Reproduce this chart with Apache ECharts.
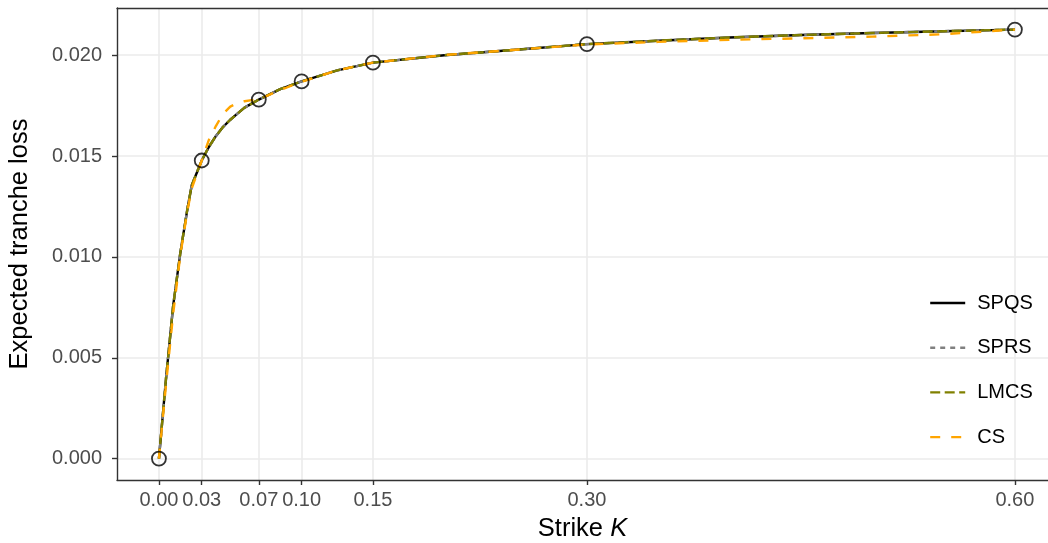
<!DOCTYPE html>
<html>
<head>
<meta charset="utf-8">
<script src="https://cdn.jsdelivr.net/npm/echarts@6/dist/echarts.min.js"></script>
<style>
html,body{margin:0;padding:0;background:#fff;}
#chart{width:1048px;height:543px;}
</style>
</head>
<body>
<div id="chart"></div>
<script>
// ---- data ----
const strikes = [0, 0.005, 0.01, 0.015, 0.02, 0.023, 0.03, 0.035, 0.04, 0.045, 0.05, 0.055, 0.06, 0.065, 0.07, 0.085, 0.10, 0.125, 0.15, 0.20, 0.25, 0.30, 0.35, 0.40, 0.45, 0.50, 0.55, 0.60];
const spqs = [0, 0.0040, 0.0076, 0.0102, 0.0124, 0.01355, 0.01478, 0.01545, 0.0160, 0.01645, 0.0168, 0.0171, 0.0174, 0.0176, 0.0178, 0.01832, 0.01870, 0.01925, 0.01963, 0.02000, 0.02027, 0.02055, 0.02072, 0.02088, 0.02100, 0.02110, 0.02119, 0.02127];
const sprs = [0, 0.0040, 0.0076, 0.0102, 0.0124, 0.01355, 0.01478, 0.01545, 0.0160, 0.01645, 0.0168, 0.0171, 0.0174, 0.0176, 0.0178, 0.01832, 0.01870, 0.01925, 0.01963, 0.02000, 0.02027, 0.02055, 0.02072, 0.02088, 0.02100, 0.02110, 0.02119, 0.02127];
const lmcs = [0, 0.0040, 0.0076, 0.0102, 0.0124, 0.01355, 0.01478, 0.01546, 0.0160, 0.01645, 0.0168, 0.0171, 0.0174, 0.0176, 0.0178, 0.01832, 0.01870, 0.01925, 0.01963, 0.02000, 0.02027, 0.02055, 0.02072, 0.02088, 0.02100, 0.02110, 0.02119, 0.02127];
const cs   = [0, 0.0037, 0.0072, 0.0101, 0.0123, 0.0134, 0.01478, 0.0158, 0.0165, 0.0171, 0.01745, 0.01762, 0.01772, 0.01777, 0.0178, 0.01828, 0.01868, 0.01925, 0.01963, 0.02001, 0.02027, 0.02053, 0.02066, 0.02076, 0.02084, 0.02092, 0.02104, 0.02127];
const knotStrikes = [0, 0.03, 0.07, 0.10, 0.15, 0.30, 0.60];
const knotLosses  = [0, 0.01478, 0.0178, 0.0187, 0.01963, 0.02055, 0.02127];
const xTicks = [0, 0.03, 0.07, 0.10, 0.15, 0.30, 0.60];
const yTicks = [0, 0.005, 0.010, 0.015, 0.020];
const seriesNames = ['SPQS', 'SPRS', 'LMCS', 'CS'];

const pair = (xs, ys) => xs.map((x, i) => [x, ys[i]]);

const FONT = '"Liberation Sans", Arial, sans-serif';
const chart = echarts.init(document.getElementById('chart'), null, {renderer: 'canvas'});

const lineSeries = (name, vals, color, type, width) => ({
  name: name,
  type: 'line',
  data: pair(strikes, vals),
  showSymbol: false,
  symbol: 'none',
  smooth: false,
  lineStyle: {color: color, width: width, type: type, cap: 'butt', join: 'round'},
  itemStyle: {color: color},
  emphasis: {disabled: true},
  animation: false,
  z: 3
});

chart.setOption({
  animation: false,
  backgroundColor: '#ffffff',
  textStyle: {fontFamily: FONT},
  grid: {left: 117, right: 0, top: 8, bottom: 63, containLabel: false, outerBoundsMode: 'none'},
  legend: {
    orient: 'vertical',
    left: 929,
    top: 293,
    padding: 0,
    itemWidth: 35,
    itemHeight: 20,
    itemGap: 24.7,
    data: seriesNames,
    itemStyle: {opacity: 0},
    lineStyle: {width: 2.4},
    textStyle: {fontSize: 20, color: '#000', fontFamily: FONT, padding: [0, 0, 0, 7]},
    selectedMode: false
  },
  xAxis: [{
    type: 'value',
    min: -0.0294,
    max: 0.6232,
    name: '{a|Strike }{b|K}',
    nameLocation: 'middle',
    nameGap: 36,
    nameTextStyle: {
      rich: {
        a: {fontSize: 25.5, color: '#000', fontFamily: FONT},
        b: {fontSize: 25.5, color: '#000', fontFamily: FONT, fontStyle: 'italic'}
      }
    },
    axisLine: {show: true, onZero: false, lineStyle: {color: '#333', width: 1.4}},
    axisTick: {show: true, length: 5, lineStyle: {color: '#333', width: 1.4}, customValues: xTicks},
    axisLabel: {customValues: xTicks, formatter: v => v.toFixed(2), fontSize: 20, color: '#4D4D4D', margin: 10, fontFamily: FONT, showMinLabel: true, showMaxLabel: true},
    splitLine: {show: true, lineStyle: {color: '#EBEBEB', width: 1.6}}
  }, {
    type: 'value',
    position: 'top',
    min: -0.0294,
    max: 0.6232,
    axisLine: {show: true, onZero: false, lineStyle: {color: '#333', width: 1.4}},
    axisTick: {show: false},
    axisLabel: {show: false},
    splitLine: {show: false}
  }],
  yAxis: {
    type: 'value',
    min: -0.00106,
    max: 0.02234,
    name: 'Expected tranche loss',
    nameLocation: 'middle',
    nameGap: 84,
    nameTextStyle: {fontSize: 25.5, color: '#000', fontFamily: FONT},
    axisLine: {show: true, onZero: false, lineStyle: {color: '#333', width: 1.4}},
    axisTick: {show: true, length: 5, lineStyle: {color: '#333', width: 1.4}, customValues: yTicks},
    axisLabel: {customValues: yTicks, formatter: v => v.toFixed(3), fontSize: 20, color: '#4D4D4D', margin: 15, fontFamily: FONT},
    splitLine: {show: true, lineStyle: {color: '#EBEBEB', width: 1.6}}
  },
  series: [
    lineSeries('SPQS', spqs, '#000000', 'solid', 2.4),
    lineSeries('SPRS', sprs, '#808080', [5, 5], 2.4),
    lineSeries('LMCS', lmcs, '#808000', [10, 4.5], 2.4),
    lineSeries('CS', cs, '#FFA500', [10, 11], 2.4),
    {
      name: 'knots',
      type: 'scatter',
      data: pair(knotStrikes, knotLosses),
      symbol: 'circle',
      symbolSize: 14,
      itemStyle: {color: 'rgba(0,0,0,0)', borderColor: '#000', borderWidth: 1.8},
      emphasis: {disabled: true},
      z: 5,
      animation: false
    }
  ]
});
</script>
</body>
</html>
